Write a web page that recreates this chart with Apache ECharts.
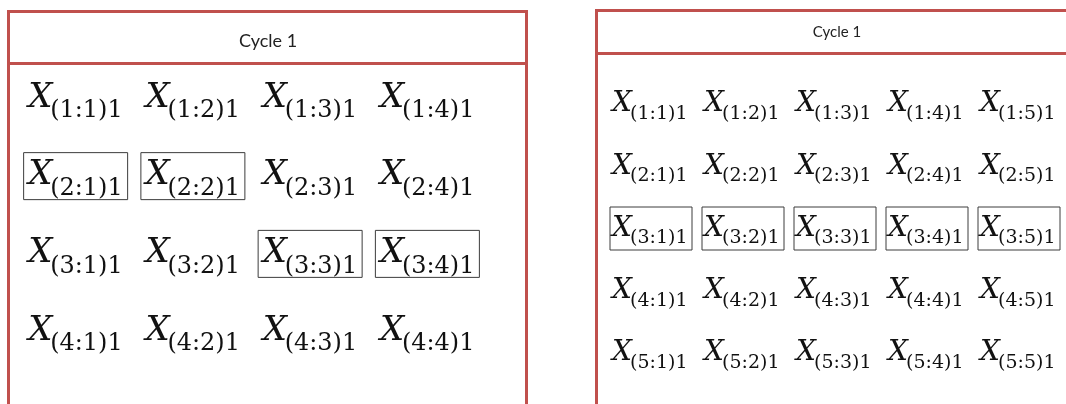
<!DOCTYPE html>
<html>
<head>
<meta charset="utf-8">
<script src="https://cdn.jsdelivr.net/npm/echarts@6/dist/echarts.min.js"></script>
<style>
html, body { margin: 0; padding: 0; background: #fff; }
#main { width: 1066px; height: 404px; }
</style>
</head>
<body>
<div id="main"></div>
<script>
// panel contents
var cycleTitle = 'Cycle 1';
var leftRows = ['1', '2', '3', '4'];
var leftCols = ['1', '2', '3', '4'];
var leftBoxed = ['2:1', '2:2', '3:3', '3:4'];
var rightRows = ['1', '2', '3', '4', '5'];
var rightCols = ['1', '2', '3', '4', '5'];
var rightBoxed = ['3:1', '3:2', '3:3', '3:4', '3:5'];

var frameColor = '#c0504d';

function buildCells(rows, cols, boxed) {
    var out = [];
    for (var i = 0; i < rows.length; i++) {
        for (var j = 0; j < cols.length; j++) {
            var key = rows[i] + ':' + cols[j];
            out.push([j, i, boxed.indexOf(key) >= 0 ? 1 : 0]);
        }
    }
    return out;
}

function cellRenderer(rows, cols, s) {
    return function (params, api) {
        var p = api.coord([api.value(0), api.value(1)]);
        var r = rows[api.value(1)], c = cols[api.value(0)];
        var kids = [];
        if (api.value(2)) {
            kids.push({
                type: 'rect',
                shape: { x: p[0] - s.bw / 2 + s.bdx, y: p[1] - s.bh / 2 + s.bdy, width: s.bw, height: s.bh },
                style: { fill: 'none', stroke: '#3c3c3c', lineWidth: 1 }
            });
        }
        kids.push({
            type: 'text',
            x: p[0] - s.half, y: p[1] + s.xdy,
            style: { text: 'X', font: 'italic ' + s.big + 'px "DejaVu Serif"', fill: '#111', align: 'left', verticalAlign: 'middle' }
        });
        kids.push({
            type: 'text',
            x: p[0] - s.half + s.subdx, y: p[1] + s.subdy,
            style: { text: '(' + r + ':' + c + ')1', font: s.small + 'px "DejaVu Serif"', fill: '#111', align: 'left', verticalAlign: 'middle' }
        });
        return { type: 'group', children: kids };
    };
}

var myChart = echarts.init(document.getElementById('main'));
var option = {
    backgroundColor: '#fff',
    animation: false,
    grid: [
        { left: 18, top: 57, width: 469, height: 311 },
        { left: 605, top: 72, width: 460, height: 311 }
    ],
    xAxis: [
        { type: 'category', gridIndex: 0, data: leftCols, show: false },
        { type: 'category', gridIndex: 1, data: rightCols, show: false }
    ],
    yAxis: [
        { type: 'category', gridIndex: 0, data: leftRows, inverse: true, show: false },
        { type: 'category', gridIndex: 1, data: rightRows, inverse: true, show: false }
    ],
    graphic: [
        // left frame
        { type: 'rect', shape: { x: 8.5, y: 11.5, width: 518, height: 420 },
          style: { fill: 'none', stroke: frameColor, lineWidth: 3 } },
        { type: 'line', shape: { x1: 8.5, y1: 63.5, x2: 526.5, y2: 63.5 },
          style: { stroke: frameColor, lineWidth: 3 } },
        { type: 'text', x: 268, y: 41,
          style: { text: cycleTitle, font: '18px Lato', fill: '#222', align: 'center', verticalAlign: 'middle' } },
        // right frame
        { type: 'rect', shape: { x: 596.5, y: 10.5, width: 520, height: 420 },
          style: { fill: 'none', stroke: frameColor, lineWidth: 3 } },
        { type: 'line', shape: { x1: 596.5, y1: 53.5, x2: 1070, y2: 53.5 },
          style: { stroke: frameColor, lineWidth: 3 } },
        { type: 'text', x: 837, y: 32,
          style: { text: cycleTitle, font: '15px Lato', fill: '#222', align: 'center', verticalAlign: 'middle' } }
    ],
    series: [
        {
            type: 'custom', xAxisIndex: 0, yAxisIndex: 0, silent: true,
            data: buildCells(leftRows, leftCols, leftBoxed),
            renderItem: cellRenderer(leftRows, leftCols,
                { half: 48.5, big: 34, small: 24, xdy: 2, subdx: 22, subdy: 15, bw: 104, bh: 47, bdx: -1, bdy: 2.5 })
        },
        {
            type: 'custom', xAxisIndex: 1, yAxisIndex: 1, silent: true,
            data: buildCells(rightRows, rightCols, rightBoxed),
            renderItem: cellRenderer(rightRows, rightCols,
                { half: 39, big: 28, small: 19, xdy: 1, subdx: 18, subdy: 11, bw: 82, bh: 43, bdx: 0, bdy: 1 })
        }
    ]
};
myChart.setOption(option);
</script>
</body>
</html>
